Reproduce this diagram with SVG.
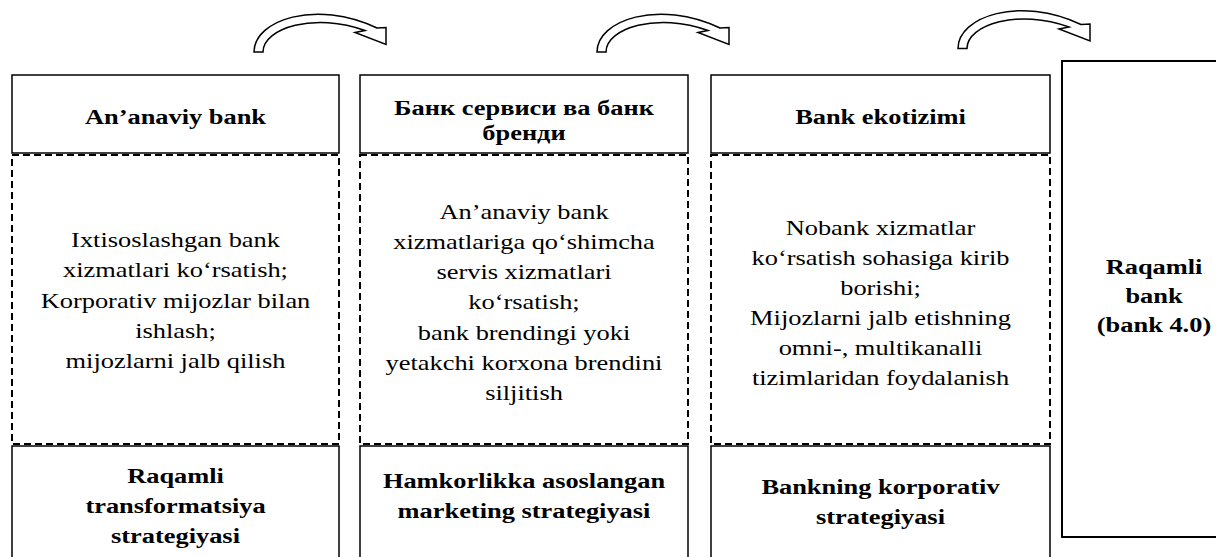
<svg xmlns="http://www.w3.org/2000/svg" width="1216" height="557" viewBox="0 0 1216 557">
<style>
text{font-family:"Liberation Serif","Times New Roman",serif;font-size:22px;text-anchor:middle;fill:#000}
.b{font-weight:bold}
.solid{fill:none;stroke:#000;stroke-width:1.5}
.dash{fill:none;stroke:#000;stroke-width:2;stroke-dasharray:7 4}
.arrow{fill:#fff;stroke:#000;stroke-width:1.5;stroke-linejoin:miter}
</style>
<defs>
<path id="curved" class="arrow" d="M254,52 C254,20 316,-1 377,28 L386,27.5 L386,44.5 L355,32.5 L365,30.5 C315,12 263,28 263,52 Z"/>
</defs>
<rect width="1216" height="557" fill="#fff"/>
<g id="connectors">
<use href="#curved"/>
<use href="#curved" transform="translate(343 0)"/>
<use href="#curved" transform="translate(704 -3.5)"/>
</g>
<g id="col1">
<rect class="solid" x="12" y="75" width="327" height="78"/>
<rect class="dash" x="12" y="155" width="327" height="289"/>
<path class="solid" d="M12,560 V446 H339 V560"/>
<g transform="translate(175.5 0) scale(1.2 1)">
<text class="b" x="0" y="124">An’anaviy bank</text>
<text x="0" y="247">Ixtisoslashgan bank</text>
<text x="0" y="277">xizmatlari koʻrsatish;</text>
<text x="0" y="308">Korporativ mijozlar bilan</text>
<text x="0" y="338">ishlash;</text>
<text x="0" y="368">mijozlarni jalb qilish</text>
<text class="b" x="0" y="483">Raqamli</text>
<text class="b" x="0" y="513">transformatsiya</text>
<text class="b" x="0" y="543">strategiyasi</text>
</g>
</g>
<g id="col2">
<rect class="solid" x="360" y="75" width="328" height="78"/>
<rect class="dash" x="360" y="155" width="328" height="289"/>
<path class="solid" d="M360,560 V446 H688 V560"/>
<g transform="translate(524 0) scale(1.2 1)">
<text class="b" x="0" y="115">Банк сервиси ва банк</text>
<text class="b" x="0" y="140">бренди</text>
<text x="0" y="219">An’anaviy bank</text>
<text x="0" y="249">xizmatlariga qo‘shimcha</text>
<text x="0" y="279.5">servis xizmatlari</text>
<text x="0" y="309.5">ko‘rsatish;</text>
<text x="0" y="340">bank brendingi yoki</text>
<text x="0" y="370">yetakchi korxona brendini</text>
<text x="0" y="400">siljitish</text>
<text class="b" x="0" y="488">Hamkorlikka asoslangan</text>
<text class="b" x="0" y="518">marketing strategiyasi</text>
</g>
</g>
<g id="col3">
<rect class="solid" x="711" y="75" width="339" height="78"/>
<rect class="dash" x="711" y="155" width="339" height="289"/>
<path class="solid" d="M711,560 V446 H1050 V560"/>
<g transform="translate(880.5 0) scale(1.2 1)">
<text class="b" x="0" y="124">Bank ekotizimi</text>
<text x="0" y="235">Nobank xizmatlar</text>
<text x="0" y="265">ko‘rsatish sohasiga kirib</text>
<text x="0" y="295">borishi;</text>
<text x="0" y="325">Mijozlarni jalb etishning</text>
<text x="0" y="355">omni-, multikanalli</text>
<text x="0" y="385">tizimlaridan foydalanish</text>
<text class="b" x="0" y="494">Bankning korporativ</text>
<text class="b" x="0" y="524">strategiyasi</text>
</g>
</g>
<g id="col4">
<rect x="1062" y="61" width="200" height="476" fill="none" stroke="#000" stroke-width="2"/>
<g transform="translate(1154 0) scale(1.2 1)">
<text class="b" x="0" y="274">Raqamli</text>
<text class="b" x="0" y="303">bank</text>
<text class="b" x="0" y="332">(bank 4.0)</text>
</g>
</g>
</svg>
